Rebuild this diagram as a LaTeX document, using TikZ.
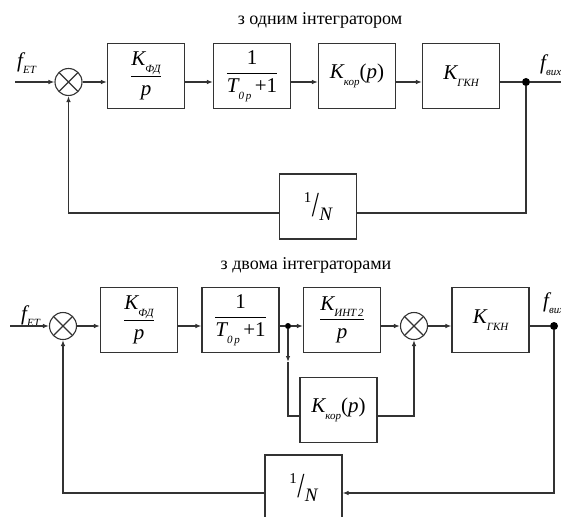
\documentclass[tikz,border=0pt]{standalone}
\usepackage{fontspec}
\usepackage{graphicx}
\setmainfont{Liberation Serif}
\usetikzlibrary{arrows.meta}
\newcommand\sbx[1]{\raisebox{-0.3em}{\fontsize{11}{11}\selectfont\itshape #1}}
\newcommand\fr[2]{$\displaystyle\frac{\hbox{#1}}{\hbox{#2}}$}
\newcommand\oneN{\raisebox{0.55em}{\fontsize{15}{15}\selectfont\upshape 1}\kern0.02em\raisebox{-0.12em}{\scalebox{0.95}[1.3]{\fontsize{27}{27}\selectfont\upshape /}}\kern0.02em\raisebox{-0.3em}{\fontsize{19}{19}\selectfont\itshape N}}
\tikzset{
  ln/.style={line width=1.1pt, draw=black!80},
  arr/.style={ln, -{Latex[length=6pt,width=4.5pt]}},
  blk/.style={ln, rectangle, minimum width=77pt, minimum height=65pt, inner sep=0pt,
    font=\fontsize{21}{24}\selectfont\itshape},
  sumc/.style={ln, circle, minimum size=27pt, inner sep=0pt,
    path picture={\draw[line width=1.1pt, black!80]
      (path picture bounding box.north west) -- (path picture bounding box.south east)
      (path picture bounding box.north east) -- (path picture bounding box.south west);}},
  dotn/.style={circle, fill=black, inner sep=0pt, minimum size=8pt},
  lbl/.style={font=\fontsize{21}{24}\selectfont\itshape, inner sep=0pt},
  ttl/.style={font=\fontsize{18}{21}\selectfont, inner sep=0pt}
}
\begin{document}
\begin{tikzpicture}[x=1pt,y=-1pt]
\useasboundingbox[fill=white] (0,0) rectangle (561,516);
% ---------- top diagram ----------
\node[ttl] (t1) at (320,20) {з одним інтегратором};
\coordinate (in1) at (15,82);
\node[sumc] (s1) at (68.5,82) {};
\node[blk] (a1) at (146,76) {\fr{K\sbx{ФД}}{p}};
\node[blk] (a2) at (252,76) {\fr{\upshape 1}{T\sbx{0\,p}\,\upshape +1}};
\node[blk] (a3) at (357,76) {K\sbx{кор}\upshape(\itshape p\upshape)};
\node[blk] (a4) at (461,76) {K\sbx{ГКН}};
\node[dotn] (d1) at (526,82) {};
\coordinate (o1) at (561,82);
\node[lbl, anchor=west] (fin1) at (17,63) {f\sbx{ЕТ}};
\node[lbl, anchor=west] (fout1) at (540,65) {f\sbx{вих}};
\node[blk] (n1) at (318,206.5) {\oneN};
\coordinate (fb1) at (0,213);
\draw[arr] (in1) -- (s1.west);
\draw[arr] (s1.east) -- (s1.east -| a1.west);
\draw[arr] (a1.east |- s1) -- (a2.west |- s1);
\draw[arr] (a2.east |- s1) -- (a3.west |- s1);
\draw[arr] (a3.east |- s1) -- (a4.west |- s1);
\draw[ln] (a4.east |- s1) -- (d1) -- (o1);
\draw[ln] (d1) -- (d1 |- fb1) -- (n1.east |- fb1);
\draw[arr] (n1.west |- fb1) -- (s1 |- fb1) -- (s1.south);
% ---------- bottom diagram ----------
\node[ttl] (t2) at (306,265) {з двома інтеграторами};
\coordinate (in2) at (10,326);
\node[sumc] (s2) at (63,326) {};
\node[blk] (b1) at (139,320) {\fr{K\sbx{ФД}}{p}};
\node[blk] (b2) at (240.5,320) {\fr{\upshape 1}{T\sbx{0\,p}\,\upshape +1}};
\node[dotn, minimum size=6pt] (bd) at (288,326) {};
\node[blk] (b3) at (342,320) {\fr{K\sbx{ИНТ\,2}}{p}};
\node[sumc] (s3) at (414,326) {};
\node[blk] (b4) at (490.5,320) {K\sbx{ГКН}};
\node[dotn] (d2) at (554,326) {};
\node[lbl, anchor=west] (fin2) at (21,316) {f\sbx{ЕТ}};
\node[lbl, anchor=west] (fout2) at (543,303) {f\sbx{вих}};
\node[blk] (kk) at (338.5,410) {K\sbx{кор}\upshape(\itshape p\upshape)};
\coordinate (bm) at (288,362);
\coordinate (kl) at (0,416);
\node[blk] (n2) at (303.5,487.5) {\oneN};
\coordinate (fb2) at (0,493);
\draw[arr] (in2) -- (s2.west);
\draw[arr] (s2.east) -- (s2.east -| b1.west);
\draw[arr] (b1.east |- s2) -- (b2.west |- s2);
\draw[ln] (b2.east |- s2) -- (bd);
\draw[arr] (bd) -- (b3.west |- bd);
\draw[arr] (b3.east |- s3) -- (s3.west);
\draw[arr] (s3.east) -- (b4.west |- s3);
\draw[ln] (b4.east |- s3) -- (d2);
\draw[arr] (bd) -- (bm);
\draw[ln] (bm) -- (bd |- kl) -- (kk.west |- kl);
\draw[arr] (kk.east |- kl) -- (s3 |- kl) -- (s3.south);
\draw[arr] (d2) -- (d2 |- fb2) -- (n2.east |- fb2);
\draw[arr] (n2.west |- fb2) -- (s2 |- fb2) -- (s2.south);
\end{tikzpicture}
\end{document}
